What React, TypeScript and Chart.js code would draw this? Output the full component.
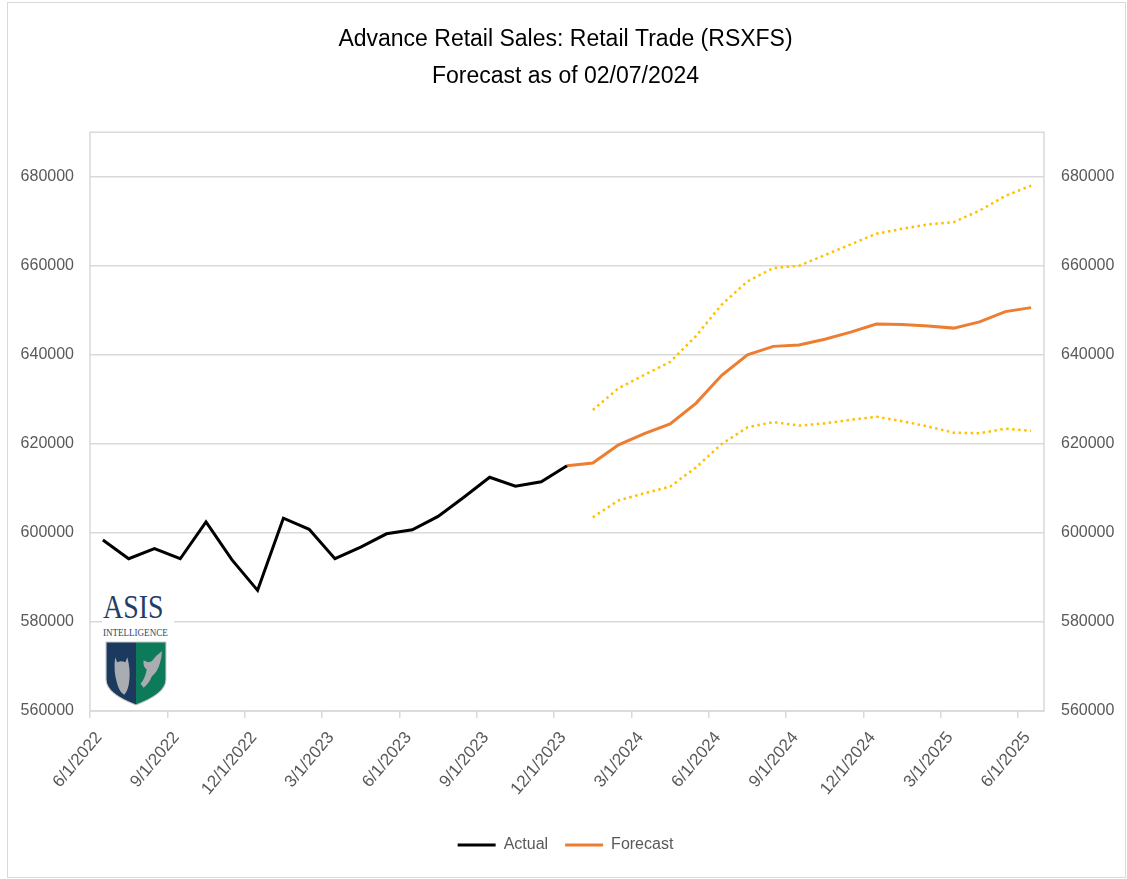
import React, { useEffect, useRef } from 'react';
import { Chart, registerables } from 'chart.js';

Chart.register(...registerables);

// ---------- data ----------
const titleLines = ['Advance Retail Sales: Retail Trade (RSXFS)', 'Forecast as of 02/07/2024'];

const months = [
  '6/1/2022', '7/1/2022', '8/1/2022', '9/1/2022', '10/1/2022', '11/1/2022', '12/1/2022',
  '1/1/2023', '2/1/2023', '3/1/2023', '4/1/2023', '5/1/2023', '6/1/2023', '7/1/2023',
  '8/1/2023', '9/1/2023', '10/1/2023', '11/1/2023', '12/1/2023',
  '1/1/2024', '2/1/2024', '3/1/2024', '4/1/2024', '5/1/2024', '6/1/2024', '7/1/2024',
  '8/1/2024', '9/1/2024', '10/1/2024', '11/1/2024', '12/1/2024',
  '1/1/2025', '2/1/2025', '3/1/2025', '4/1/2025', '5/1/2025', '6/1/2025',
];

const tickLabels = [
  '6/1/2022', '9/1/2022', '12/1/2022', '3/1/2023', '6/1/2023', '9/1/2023', '12/1/2023',
  '3/1/2024', '6/1/2024', '9/1/2024', '12/1/2024', '3/1/2025', '6/1/2025',
];

const yTicks = [560000, 580000, 600000, 620000, 640000, 660000, 680000];

// Actual: 6/2022 .. 12/2023
const actualStart = '6/1/2022';
const actualValues = [
  598400, 594200, 596500, 594200, 602500, 594000, 587100, 603300, 600800, 594200,
  596800, 599800, 600700, 603700, 608000, 612500, 610500, 611500, 615100,
];

// Forecast: 12/2023 .. 6/2025
const forecastStart = '12/1/2023';
const forecastValues = [
  615100, 615700, 619800, 622300, 624500, 629100, 635400, 640000, 641900, 642200,
  643500, 645100, 646900, 646800, 646500, 646000, 647400, 649700, 650600,
];

// Bands: 1/2024 .. 6/2025
const bandStart = '1/1/2024';
const upperValues = [
  627600, 632500, 635500, 638400, 644200, 651300, 656500, 659500, 660000,
  662400, 664800, 667200, 668300, 669300, 669800, 672400, 675700, 678000,
];
const lowerValues = [
  603500, 607300, 608900, 610400, 614700, 620000, 623700, 624900, 624100,
  624600, 625400, 626100, 625100, 623900, 622500, 622400, 623400, 622900,
];

// ---------- helpers ----------
const FONT = "'Liberation Sans', Arial, sans-serif";
const GRID = '#d9d9d9';
const TEXT = '#595959';

const toPoints = (start: string, values: number[]) => {
  const s = months.indexOf(start);
  // points sit in the middle of each month (Excel "between tick marks")
  return values.map((v, i) => ({ x: s + i + 0.5, y: v }));
};

const plotBorder = {
  id: 'plotBorder',
  beforeDatasetsDraw(chart: any) {
    const { ctx, chartArea } = chart;
    ctx.save();
    ctx.strokeStyle = GRID;
    ctx.lineWidth = 1.5;
    ctx.strokeRect(chartArea.left, chartArea.top, chartArea.right - chartArea.left, chartArea.bottom - chartArea.top);
    ctx.restore();
  },
};

function Logo() {
  return (
    <div style={{ position: 'absolute', left: 102, top: 588, width: 72, height: 118, background: '#ffffff', pointerEvents: 'none' }}>
      <div
        style={{
          position: 'absolute', left: 1, top: 2, fontFamily: "'Liberation Serif', 'DejaVu Serif', serif",
          fontSize: 34, lineHeight: '34px', color: '#1f3e66', transform: 'scaleX(0.82)', transformOrigin: 'left top',
        }}
      >
        ASIS
      </div>
      <div
        style={{
          position: 'absolute', left: 1, top: 39, fontFamily: "'Liberation Serif', 'DejaVu Serif', serif",
          fontSize: 10.5, lineHeight: '11px', color: '#2b4a70', transform: 'scaleX(0.86)', transformOrigin: 'left top',
          whiteSpace: 'nowrap',
        }}
      >
        INTELLIGENCE
      </div>
      <svg style={{ position: 'absolute', left: 3, top: 53 }} width="62" height="65" viewBox="0 0 61 64">
        <defs>
          <clipPath id="shieldClip">
            <path d="M1,1 H60 V38 Q60,52 30.5,63 Q1,52 1,38 Z" />
          </clipPath>
        </defs>
        <g clipPath="url(#shieldClip)">
          <rect x="0" y="0" width="30.5" height="64" fill="#1c3a5e" />
          <rect x="30.5" y="0" width="31" height="64" fill="#0d7a5a" />
          {/* owl */}
          <path d="M10,16 L12,21 Q16,19 20,21 L22,16 Q25,28 24,38 Q23,49 19,53 Q14,50 12,42 Q8,30 10,16 Z" fill="#a9adb1" />
          {/* eagle */}
          <path d="M56,10 Q50,14 46,20 Q42,22 38,19 Q37,25 41,28 Q40,36 35,42 L38,46 Q44,41 46,35 Q52,30 54,22 Q56,16 56,10 Z" fill="#a9adb1" />
        </g>
        <path d="M1,1 H60 V38 Q60,52 30.5,63 Q1,52 1,38 Z" fill="none" stroke="#c8c8c8" strokeWidth="1" />
      </svg>
    </div>
  );
}

export default function App() {
  const canvasRef = useRef<HTMLCanvasElement | null>(null);

  useEffect(() => {
    if (!canvasRef.current) return;
    const tickFont = { family: FONT, size: 16 };
    const chart = new Chart(canvasRef.current, {
      type: 'line',
      data: {
        datasets: [
          {
            label: 'Actual',
            data: toPoints(actualStart, actualValues),
            borderColor: '#000000',
            backgroundColor: '#000000',
            borderWidth: 3,
            pointRadius: 0,
            tension: 0,
            yAxisID: 'y',
          },
          {
            label: 'Forecast',
            data: toPoints(forecastStart, forecastValues),
            borderColor: '#ed7d31',
            backgroundColor: '#ed7d31',
            borderWidth: 3,
            pointRadius: 0,
            tension: 0,
            yAxisID: 'y',
          },
          {
            label: 'Upper',
            data: toPoints(bandStart, upperValues),
            borderColor: '#ffc000',
            backgroundColor: '#ffc000',
            borderWidth: 2.5,
            borderDash: [2.5, 3.5],
            pointRadius: 0,
            tension: 0,
            yAxisID: 'y',
          },
          {
            label: 'Lower',
            data: toPoints(bandStart, lowerValues),
            borderColor: '#ffc000',
            backgroundColor: '#ffc000',
            borderWidth: 2.5,
            borderDash: [2.5, 3.5],
            pointRadius: 0,
            tension: 0,
            yAxisID: 'y',
          },
        ],
      },
      options: {
        animation: false,
        responsive: false,
        devicePixelRatio: 1,
        layout: { padding: { left: 4, right: 0, top: 0, bottom: 16 } },
        plugins: {
          title: {
            display: true,
            text: titleLines,
            color: '#000000',
            font: { family: FONT, size: 23, weight: 'normal', lineHeight: 1.57 },
            padding: { top: 22, bottom: 38 },
          },
          legend: {
            position: 'bottom',
            labels: {
              usePointStyle: true,
              pointStyle: 'line',
              pointStyleWidth: 38,
              color: TEXT,
              font: tickFont,
              padding: 17,
              filter: (item: any) => item.datasetIndex < 2,
            },
          },
          tooltip: { enabled: false },
        },
        scales: {
          x: {
            type: 'linear',
            min: 0,
            max: months.length,
            afterBuildTicks: (scale: any) => {
              scale.ticks = tickLabels.map((l) => ({ value: months.indexOf(l) }));
            },
            afterFit: (scale: any) => {
              scale.height = 109;
            },
            ticks: {
              autoSkip: false,
              maxRotation: 50,
              minRotation: 50,
              color: TEXT,
              font: { family: FONT, size: 17 },
              padding: 10,
              labelOffset: 9,
              callback: (v: any) => months[v as number],
            },
            grid: { drawOnChartArea: false, drawTicks: true, tickLength: 7, color: GRID, lineWidth: 1.5 },
            border: { display: false },
          },
          y: {
            position: 'left',
            min: 560000,
            max: 690000,
            afterBuildTicks: (scale: any) => {
              scale.ticks = yTicks.map((v) => ({ value: v }));
            },
            afterFit: (scale: any) => {
              scale.width = 86;
            },
            ticks: { color: TEXT, font: tickFont, padding: 16, callback: (v: any) => String(v) },
            grid: { color: GRID, lineWidth: 1.5, drawTicks: false },
            border: { display: false },
          },
          y2: {
            position: 'right',
            min: 560000,
            max: 690000,
            afterBuildTicks: (scale: any) => {
              scale.ticks = yTicks.map((v) => ({ value: v }));
            },
            afterFit: (scale: any) => {
              scale.width = 83;
            },
            ticks: { color: TEXT, font: tickFont, padding: 17, callback: (v: any) => String(v) },
            grid: { display: false, drawTicks: false },
            border: { display: false },
          },
        },
      },
      plugins: [plotBorder],
    } as any);
    return () => chart.destroy();
  }, []);

  return (
    <div style={{ position: 'absolute', left: 0, top: 0, width: 1127, height: 879, background: '#ffffff' }}>
      <canvas ref={canvasRef} width={1127} height={879} style={{ position: 'absolute', left: 0, top: 0 }} />
      <Logo />
      <div
        style={{
          position: 'absolute', left: 7, top: 2, width: 1119, height: 876, boxSizing: 'border-box',
          border: '1.5px solid #d9d9d9', pointerEvents: 'none',
        }}
      />
    </div>
  );
}
